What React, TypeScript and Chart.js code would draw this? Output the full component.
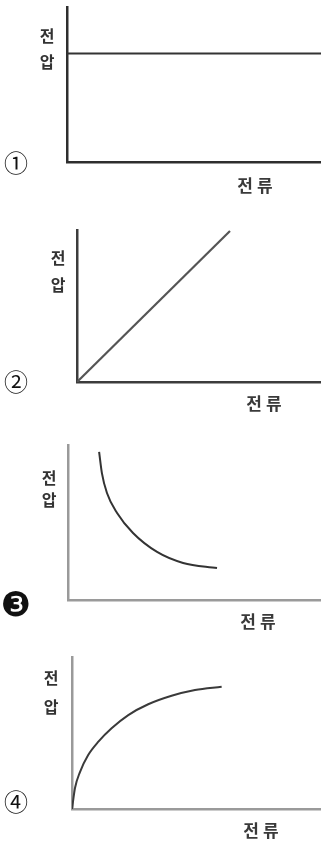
import React, { useEffect, useRef } from "react";
import { Chart, registerables } from "chart.js";

Chart.register(...registerables);

// ---- data ----
const xTitle = "전류";
const yTitleChars = ["전", "압"];
const panelMarks = ["①", "②", "❸", "④"];

const p1X = [0, 10];
const p1Y = [7.0, 7.0];

const p2X = [0, 6.27];
const p2Y = [0, 9.93];

const p3X = [1.23, 1.34, 1.54, 1.94, 2.57, 3.52, 4.55, 5.89];
const p3Y = [9.55, 8.19, 6.9, 5.61, 4.32, 3.1, 2.39, 2.06];

const p4X = [0, 0.12, 0.32, 0.65, 1.06, 1.59, 2.26, 3.06, 4.0, 4.94, 6.01];
const p4Y = [0, 1.38, 2.43, 3.55, 4.43, 5.31, 6.18, 6.89, 7.45, 7.83, 8.05];

const seriesX = [p1X, p2X, p3X, p4X];
const seriesY = [p1Y, p2Y, p3Y, p4Y];

// ---- layout / style per panel ----
type Panel = {
  top: number;
  height: number;
  pad: { left: number; top: number; bottom: number };
  axisColor: string;
  axisWidth: number;
  lineColor: string;
  lineWidth: number;
  curved: boolean;
  yLabel: [number, number][];
  xLabel: [number, number];
  mark: [number, number];
  markFont: string;
};

const panels: Panel[] = [
  {
    top: 0, height: 210, pad: { left: 67, top: 7, bottom: 48 },
    axisColor: "#2e2e2e", axisWidth: 2.5, lineColor: "#333333", lineWidth: 2.2, curved: false,
    yLabel: [[47, 36], [47, 62]], xLabel: [255, 186], mark: [16, 163],
    markFont: '24px "Noto Sans CJK KR"',
  },
  {
    top: 210, height: 210, pad: { left: 77, top: 20, bottom: 38 },
    axisColor: "#3c3c3c", axisWidth: 2.5, lineColor: "#555555", lineWidth: 2.2, curved: false,
    yLabel: [[58, 48], [58, 75]], xLabel: [264, 194], mark: [16, 172],
    markFont: '24px "Noto Sans CJK KR"',
  },
  {
    top: 420, height: 210, pad: { left: 68, top: 25, bottom: 30 },
    axisColor: "#9a9a9a", axisWidth: 2.5, lineColor: "#333333", lineWidth: 2, curved: true,
    yLabel: [[49, 58], [49, 80]], xLabel: [258, 202], mark: [16, 187],
    markFont: '34px "DejaVu Sans"',
  },
  {
    top: 630, height: 212, pad: { left: 72, top: 27, bottom: 33 },
    axisColor: "#9a9a9a", axisWidth: 2.5, lineColor: "#3a3a3a", lineWidth: 2, curved: true,
    yLabel: [[51, 48], [51, 77]], xLabel: [261, 201], mark: [16, 172],
    markFont: '24px "Noto Sans CJK KR"',
  },
];

function PanelChart({ index }: { index: number }) {
  const ref = useRef<HTMLCanvasElement | null>(null);
  const p = panels[index];

  useEffect(() => {
    if (!ref.current) return;
    const xs = seriesX[index];
    const ys = seriesY[index];
    const points = xs.map((x, i) => ({ x, y: ys[i] }));

    const labelsPlugin = {
      id: "panelLabels",
      afterDraw(chart: any) {
        const ctx = chart.ctx as CanvasRenderingContext2D;
        ctx.save();
        ctx.textAlign = "center";
        ctx.textBaseline = "middle";
        ctx.fillStyle = "#333333";
        ctx.font = 'bold 16px "Noto Sans CJK KR"';
        yTitleChars.forEach((ch, i) => {
          ctx.fillText(ch, p.yLabel[i][0], p.yLabel[i][1]);
        });
        ctx.fillStyle = "#3a3a3a";
        ctx.font = 'bold 17px "Noto Sans CJK KR"';
        (ctx as any).letterSpacing = "4px";
        ctx.fillText(xTitle, p.xLabel[0] + 2, p.xLabel[1]);
        (ctx as any).letterSpacing = "0px";
        ctx.fillStyle = "#111111";
        ctx.font = p.markFont;
        ctx.fillText(panelMarks[index], p.mark[0], p.mark[1]);
        ctx.restore();
      },
    };

    const chart = new Chart(ref.current, {
      type: "line",
      data: {
        datasets: [
          {
            data: points,
            borderColor: p.lineColor,
            borderWidth: p.lineWidth,
            pointRadius: 0,
            fill: false,
            tension: p.curved ? 0.4 : 0,
            cubicInterpolationMode: p.curved ? "monotone" : "default",
          } as any,
        ],
      },
      options: {
        animation: false,
        responsive: false,
        maintainAspectRatio: false,
        layout: { padding: { left: p.pad.left, top: p.pad.top, bottom: p.pad.bottom, right: 0 } },
        plugins: { legend: { display: false }, tooltip: { enabled: false } },
        events: [],
        scales: {
          x: {
            type: "linear",
            min: 0,
            max: 10,
            grid: { display: false, drawTicks: false },
            ticks: { display: false },
            border: { display: true, color: p.axisColor, width: p.axisWidth },
          },
          y: {
            type: "linear",
            min: 0,
            max: 10,
            grid: { display: false, drawTicks: false },
            ticks: { display: false },
            border: { display: true, color: p.axisColor, width: p.axisWidth },
          },
        },
      },
      plugins: [labelsPlugin],
    });
    return () => chart.destroy();
  }, [index]);

  return (
    <canvas
      ref={ref}
      width={321}
      height={p.height}
      style={{ position: "absolute", left: 0, top: p.top, width: 321, height: p.height, display: "block" }}
    />
  );
}

export default function App() {
  useEffect(() => {
    document.body.style.margin = "0";
    document.body.style.background = "#ffffff";
  }, []);
  return (
    <div style={{ position: "relative", width: 321, height: 842, background: "#ffffff", overflow: "hidden" }}>
      {panels.map((_, i) => (
        <PanelChart key={i} index={i} />
      ))}
    </div>
  );
}
